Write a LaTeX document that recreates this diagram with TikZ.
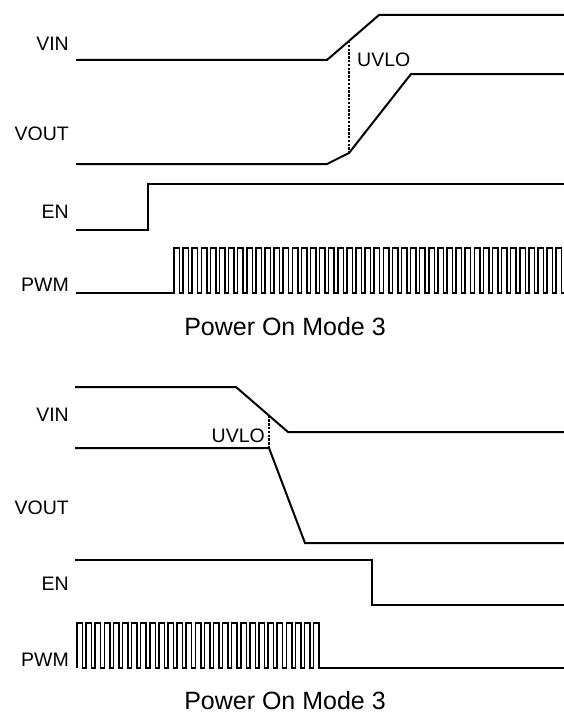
\documentclass[tikz,border=0pt]{standalone}
\usepackage{fontspec}
\setmainfont{Liberation Sans}
\begin{document}
\begin{tikzpicture}[x=1pt,y=-1pt,
  sig/.style={line width=2pt, line join=miter},
  pwmline/.style={line width=1.5pt, line join=miter},
  uvlodash/.style={line width=2.2pt, dash pattern=on 2.4pt off 1.4pt},
  lbl/.style={anchor=east, inner sep=0pt, font=\fontsize{19.5}{20}\selectfont},
  captext/.style={inner sep=0pt, font=\fontsize{25}{26}\selectfont}]
\useasboundingbox (0,0) rectangle (564,717);
% ---------------- top diagram ----------------
\node[lbl] (vinA) at (69,44) {VIN};
\node[lbl] (voutA) at (69,134) {VOUT};
\node[lbl] (enA) at (69,212) {EN};
\node[lbl] (pwmA) at (69,285) {PWM};
\node[captext] (capA) at (285,327) {Power On Mode 3};
\node[anchor=west, inner sep=0pt, font=\fontsize{19.5}{20}\selectfont] (uvloA) at (357,60) {UVLO};

\coordinate (a1) at (76,60);
\coordinate (a2) at (327,60);
\coordinate (a3) at (379,15);
\coordinate (a4) at (564,15);
\coordinate (aU) at (349,41);
\draw[sig] (a1) -- (a2) -- (a3) -- (a4);

\coordinate (b1) at (76,164);
\coordinate (b2) at (327,164);
\coordinate (b3) at (349,153);
\coordinate (b4) at (411,74);
\coordinate (b5) at (564,74);
\draw[sig] (b1) -- (b2) -- (b3) -- (b4) -- (b5);
\draw[uvlodash] (aU) -- (b3);

\coordinate (c1) at (76,230);
\coordinate (c2) at (148,230);
\coordinate (c3) at (148,184);
\coordinate (c4) at (564,184);
\draw[sig] (c1) -- (c2) -- (c3) -- (c4);

\coordinate (d1) at (76,293);
\draw[pwmline] (d1) -- (174,293)
  \foreach \k in {0,...,42}{ -- ({174+9.1*\k},293) -- ({174+9.1*\k},248) -- ({179.5+9.1*\k},248) -- ({179.5+9.1*\k},293)}
  -- (564,293);

% ---------------- bottom diagram ----------------
\node[lbl] (vinB) at (69,415) {VIN};
\node[lbl] (voutB) at (69,508) {VOUT};
\node[lbl] (enB) at (69,584) {EN};
\node[lbl] (pwmB) at (69,660) {PWM};
\node[captext] (capB) at (285,701) {Power On Mode 3};
\node[lbl] (uvloB) at (265,436) {UVLO};

\coordinate (e1) at (75,387);
\coordinate (e2) at (236,387);
\coordinate (e3) at (288,432);
\coordinate (e4) at (564,432);
\coordinate (eU) at (269,415.6);
\draw[sig] (e1) -- (e2) -- (e3) -- (e4);

\coordinate (f1) at (75,448);
\coordinate (f2) at (269,448);
\coordinate (f3) at (305,543);
\coordinate (f4) at (564,543);
\draw[sig] (f1) -- (f2) -- (f3) -- (f4);
\draw[uvlodash] (eU) -- (f2);

\coordinate (g1) at (75,560);
\coordinate (g2) at (372,560);
\coordinate (g3) at (372,605);
\coordinate (g4) at (564,605);
\draw[sig] (g1) -- (g2) -- (g3) -- (g4);

\coordinate (h1) at (77,668);
\draw[pwmline] (h1)
  \foreach \k in {0,...,26}{ -- ({77+9.1*\k},668) -- ({77+9.1*\k},623) -- ({82.5+9.1*\k},623) -- ({82.5+9.1*\k},668)}
  -- (564,668);
\end{tikzpicture}
\end{document}
